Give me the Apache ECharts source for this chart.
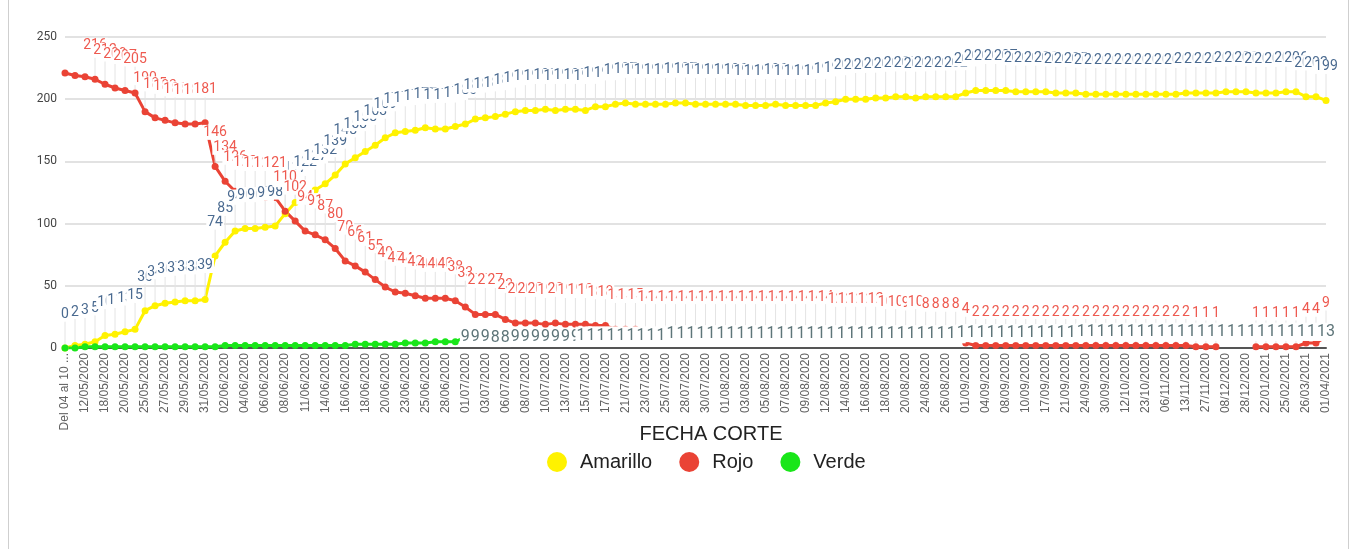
<!DOCTYPE html>
<html>
<head>
<meta charset="utf-8">
<script src="https://cdn.jsdelivr.net/npm/echarts@6/dist/echarts.min.js"></script>
<style>
  html, body { margin: 0; padding: 0; background: #fff; }
  #frame { position: absolute; left: 8px; top: 0; width: 1341px; height: 549px; border-left: 1px solid #cfcfcf; border-right: 1px solid #cfcfcf; box-sizing: border-box; }
  #chart { position: absolute; left: 0; top: 0; width: 1359px; height: 549px; }
</style>
</head>
<body>
<div id="frame"></div>
<div id="chart"></div>
<script>
const categories = [
  "Del 04 al 10 de mayo", "11/05/2020", "12/05/2020", "15/05/2020", "18/05/2020", "19/05/2020", "20/05/2020", "22/05/2020",
  "25/05/2020", "26/05/2020", "27/05/2020", "28/05/2020", "29/05/2020", "30/05/2020", "31/05/2020", "01/06/2020",
  "02/06/2020", "03/06/2020", "04/06/2020", "05/06/2020", "06/06/2020", "07/06/2020", "08/06/2020", "09/06/2020",
  "11/06/2020", "12/06/2020", "14/06/2020", "15/06/2020", "16/06/2020", "17/06/2020", "18/06/2020", "19/06/2020",
  "20/06/2020", "22/06/2020", "23/06/2020", "24/06/2020", "25/06/2020", "26/06/2020", "28/06/2020", "29/06/2020",
  "01/07/2020", "02/07/2020", "03/07/2020", "04/07/2020", "06/07/2020", "07/07/2020", "08/07/2020", "09/07/2020",
  "10/07/2020", "11/07/2020", "13/07/2020", "14/07/2020", "15/07/2020", "16/07/2020", "17/07/2020", "18/07/2020",
  "21/07/2020", "22/07/2020", "23/07/2020", "24/07/2020", "25/07/2020", "27/07/2020", "28/07/2020", "29/07/2020",
  "30/07/2020", "31/07/2020", "01/08/2020", "02/08/2020", "03/08/2020", "04/08/2020", "05/08/2020", "06/08/2020",
  "07/08/2020", "08/08/2020", "09/08/2020", "11/08/2020", "12/08/2020", "13/08/2020", "14/08/2020", "15/08/2020",
  "16/08/2020", "17/08/2020", "18/08/2020", "19/08/2020", "20/08/2020", "21/08/2020", "24/08/2020", "25/08/2020",
  "26/08/2020", "28/08/2020", "01/09/2020", "03/09/2020", "04/09/2020", "07/09/2020", "08/09/2020", "09/09/2020",
  "10/09/2020", "14/09/2020", "17/09/2020", "18/09/2020", "21/09/2020", "23/09/2020", "24/09/2020", "28/09/2020",
  "30/09/2020", "07/10/2020", "12/10/2020", "19/10/2020", "23/10/2020", "30/10/2020", "06/11/2020", "10/11/2020",
  "13/11/2020", "20/11/2020", "27/11/2020", "04/12/2020", "08/12/2020", "18/12/2020", "28/12/2020", "15/01/2021",
  "22/01/2021", "05/02/2021", "25/02/2021", "12/03/2021", "26/03/2021", "29/03/2021", "01/04/2021"
];

const amarillo = [
  0, 2, 3, 5, 10, 11, 13, 15, 30, 34,
  36, 37, 38, 38, 39, 74, 85, 94, 96, 96,
  97, 98, 108, 117, 122, 127, 132, 139, 148, 153,
  158, 163, 169, 173, 174, 175, 177, 176, 176, 178,
  180, 184, 185, 186, 188, 190, 191, 191, 192, 191,
  192, 192, 191, 194, 194, 196, 197, 196, 196, 196,
  196, 197, 197, 196, 196, 196, 196, 196, 195, 195,
  195, 196, 195, 195, 195, 195, 197, 198, 200, 200,
  200, 201, 201, 202, 202, 201, 202, 202, 202, 202,
  205, 207, 207, 207, 207, 206, 206, 206, 206, 205,
  205, 205, 204, 204, 204, 204, 204, 204, 204, 204,
  204, 204, 205, 205, 205, 205, 206, 206, 206, 205,
  205, 205, 206, 206, 202, 202, 199
];

const rojo = [
  221, 219, 218, 216, 212, 209, 207, 205, 190, 185,
  183, 181, 180, 180, 181, 146, 134, 126, 122, 121,
  121, 121, 110, 102, 94, 91, 87, 80, 70, 66,
  61, 55, 49, 45, 44, 42, 40, 40, 40, 38,
  33, 27, 27, 27, 23, 20, 20, 20, 19, 20,
  19, 19, 19, 18, 18, 15, 15, 15, 14, 14,
  14, 14, 14, 14, 14, 14, 14, 14, 14, 14,
  14, 14, 14, 14, 14, 14, 14, 12, 12, 12,
  12, 12, 10, 10, 9, 10, 8, 8, 8, 8,
  4, 2, 2, 2, 2, 2, 2, 2, 2, 2,
  2, 2, 2, 2, 2, 2, 2, 2, 2, 2,
  2, 2, 2, 1, 1, 1, null, null, null, 1,
  1, 1, 1, 1, 4, 4, 9
];

const verde = [
  0, 0, 1, 1, 1, 1, 1, 1, 1, 1,
  1, 1, 1, 1, 1, 1, 2, 2, 2, 2,
  2, 2, 2, 2, 2, 2, 2, 2, 2, 3,
  3, 3, 3, 3, 4, 4, 4, 5, 5, 5,
  9, 9, 9, 8, 8, 9, 9, 9, 9, 9,
  9, 9, 10, 10, 10, 10, 10, 10, 10, 10,
  10, 11, 11, 11, 11, 11, 11, 11, 11, 11,
  11, 11, 11, 11, 11, 11, 11, 11, 11, 11,
  11, 11, 11, 11, 11, 11, 11, 11, 11, 11,
  12, 12, 12, 12, 12, 12, 12, 12, 12, 12,
  12, 12, 13, 13, 13, 13, 13, 13, 13, 13,
  13, 13, 13, 13, 13, 13, 13, 13, 13, 13,
  13, 13, 13, 13, 13, 13, 13
];

const yTicks = { min: 0, max: 250, interval: 50 };

// first indices whose data labels are shown (earlier ones are hidden in the original)
const firstLabel = { amarillo: 0, rojo: 3, verde: 40 };

function build(values, first) {
  return values.map((v, i) => (v === null
    ? { value: '-', label: { show: false } }
    : { value: v, label: { show: i >= first } }));
}

const COL = { y: '#fff200', r: '#ea4335', g: '#19e619' };
const labelBase = {
  show: true,
  fontFamily: 'Roboto, sans-serif',
  fontSize: 13,
  backgroundColor: '#ffffff',
  padding: [1, 1, 0, 1]
};
const guide = { show: true, lineStyle: { color: '#e4e4e4', width: 1 } };

const chart = echarts.init(document.getElementById('chart'), null, { renderer: 'canvas' });
chart.setOption({
  animation: false,
  grid: { left: 65, right: 33, top: 37, bottom: 201, containLabel: false },
  legend: {
    left: 542, top: 447,
    icon: 'circle', itemWidth: 20, itemHeight: 20, itemGap: 27,
    textStyle: { fontFamily: '"Liberation Sans", Arial, sans-serif', fontSize: 20, color: '#222', padding: [0, 0, 0, 8] },
    data: ['Amarillo', 'Rojo', 'Verde']
  },
  xAxis: {
    type: 'category',
    data: categories,
    boundaryGap: false,
    name: 'FECHA CORTE',
    nameLocation: 'middle',
    nameGap: 76,
    nameMoveOverlap: false,
    nameTextStyle: { fontFamily: '"Liberation Sans", Arial, sans-serif', fontSize: 20, color: '#222', padding: [0, 0, 0, 31] },
    axisLine: { lineStyle: { color: '#555', width: 2 } },
    axisTick: { show: false },
    axisLabel: {
      interval: 1, rotate: 90, margin: 5,
      fontFamily: '"Liberation Sans", Arial, sans-serif', fontSize: 12, color: '#616161',
      width: 84, overflow: 'truncate', ellipsis: '...'
    },
    splitLine: { show: false }
  },
  yAxis: {
    type: 'value',
    min: yTicks.min, max: yTicks.max, interval: yTicks.interval,
    axisLine: { show: false },
    axisTick: { show: false },
    axisLabel: { fontFamily: 'Roboto, sans-serif', fontSize: 12, color: '#444', margin: 8 },
    splitLine: { lineStyle: { color: '#d9d9d9', width: 1.5 } }
  },
  series: [
    {
      name: 'Amarillo', type: 'line', data: build(amarillo, firstLabel.amarillo),
      symbol: 'circle', symbolSize: 7, showAllSymbol: true, connectNulls: false,
      lineStyle: { width: 3, color: COL.y }, itemStyle: { color: COL.y },
      label: Object.assign({}, labelBase, { position: 'top', distance: 5, color: '#4a6a90', fontSize: 14 }),
      labelLayout: { dy: -18 },
      labelLine: guide,
      emphasis: { disabled: true }
    },
    {
      name: 'Rojo', type: 'line', data: build(rojo, firstLabel.rojo),
      symbol: 'circle', symbolSize: 7, showAllSymbol: true, connectNulls: false,
      lineStyle: { width: 3, color: COL.r }, itemStyle: { color: COL.r },
      label: Object.assign({}, labelBase, { position: 'top', distance: 5, color: '#ee5a50', fontSize: 14 }),
      labelLayout: { dy: -18 },
      labelLine: guide,
      emphasis: { disabled: true }
    },
    {
      name: 'Verde', type: 'line', data: build(verde, firstLabel.verde),
      symbol: 'circle', symbolSize: 7, showAllSymbol: true, connectNulls: false,
      lineStyle: { width: 3, color: COL.g }, itemStyle: { color: COL.g },
      label: Object.assign({}, labelBase, { position: 'inside', color: '#5e7579', fontSize: 16, padding: [1, 1, 1, 1] }),
      emphasis: { disabled: true }
    }
  ]
});
</script>
</body>
</html>
